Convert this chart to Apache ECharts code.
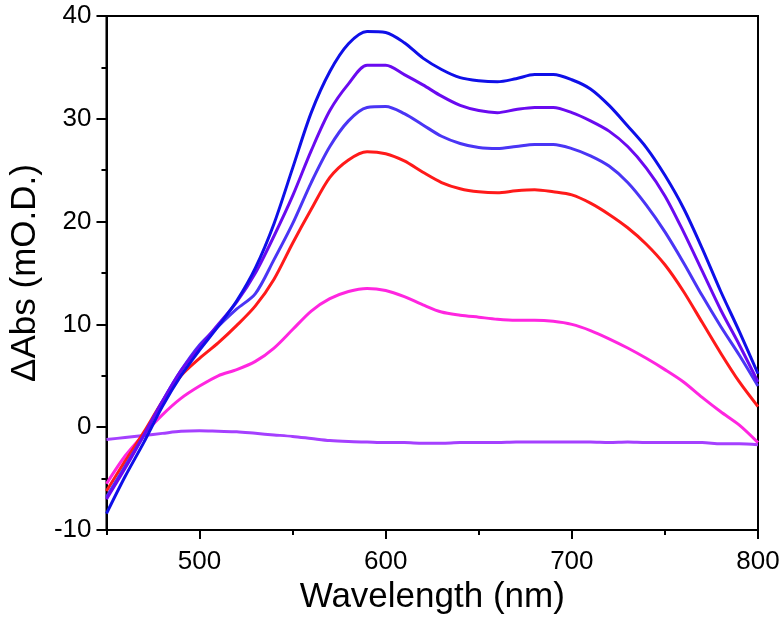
<!DOCTYPE html>
<html lang="en" style="height: 100%">
<head>
  <meta charset="utf-8">
</head>
<body style="height: 100%; margin: 0; background: #fff">
  <div id="container" style="width: 784px; height: 621px"></div>

  <script type="text/javascript" src="https://fastly.jsdelivr.net/npm/echarts@6/dist/echarts.min.js"></script>

  <script type="text/javascript">
    // wavelength grid (nm)
    var wavelengths = [450, 460, 470, 480, 490, 500, 510, 520, 530, 540, 550, 560, 570, 580, 590, 600, 610, 620,
      630, 640, 650, 660, 670, 680, 690, 700, 710, 720, 730, 740, 750, 760, 770, 780, 790, 800];

    // ΔAbs traces (mO.D.)
    var blueTrace = [-8.4, -4.8, -1.5, 2.0, 5.0, 7.5, 9.8, 12.3, 15.5, 19.8, 25.2, 30.6, 34.6, 37.3, 38.5, 38.4, 37.4, 35.9,
      34.8, 34.0, 33.7, 33.6, 33.9, 34.3, 34.3, 33.8, 32.9, 31.3, 29.3, 27.2, 24.5, 21.3, 17.4, 13.2, 9.3, 5.2];
    var purpleTrace = [-7.0, -4.0, -0.8, 2.5, 5.5, 7.8, 10.0, 12.2, 15.0, 18.6, 22.5, 26.9, 30.8, 33.4, 35.2, 35.2, 34.3, 33.3,
      32.2, 31.3, 30.8, 30.6, 30.9, 31.1, 31.1, 30.6, 29.8, 28.8, 27.3, 25.2, 22.5, 19.0, 15.2, 11.4, 8.0, 4.4];
    var slateTrace = [-6.8, -3.8, -0.8, 2.5, 5.5, 8.0, 9.8, 11.5, 13.0, 16.3, 19.8, 23.8, 27.3, 29.8, 31.1, 31.2, 30.5, 29.4,
      28.3, 27.6, 27.2, 27.1, 27.3, 27.5, 27.5, 27.1, 26.4, 25.4, 23.8, 21.6, 19.0, 16.0, 12.8, 9.8, 7.0, 4.0];
    var redTrace = [-6.2, -3.3, -0.5, 2.5, 5.0, 6.7, 8.2, 9.9, 11.8, 14.4, 17.9, 21.2, 24.3, 26.0, 26.8, 26.6, 25.9, 24.8,
      23.8, 23.2, 22.9, 22.8, 23.0, 23.1, 22.9, 22.6, 21.8, 20.7, 19.4, 17.8, 15.8, 13.2, 10.2, 7.2, 4.4, 2.0];
    var magentaTrace = [-5.5, -2.8, -0.7, 1.2, 2.8, 4.0, 5.0, 5.6, 6.4, 7.7, 9.5, 11.3, 12.5, 13.2, 13.5, 13.3, 12.7, 11.9,
      11.2, 10.9, 10.7, 10.5, 10.4, 10.4, 10.3, 10.0, 9.4, 8.6, 7.7, 6.7, 5.6, 4.4, 2.9, 1.5, 0.2, -1.5];
    var violetTrace = [-1.2, -1.0, -0.8, -0.6, -0.4, -0.35, -0.4, -0.45, -0.6, -0.75, -0.9, -1.1, -1.3, -1.4, -1.45, -1.5, -1.5, -1.55,
      -1.55, -1.5, -1.5, -1.5, -1.45, -1.45, -1.45, -1.45, -1.45, -1.5, -1.45, -1.5, -1.5, -1.5, -1.5, -1.6, -1.6, -1.7];

    var xMajorTicks = [500, 600, 700, 800];
    var xMinorTicks = [450, 550, 650, 750];

    var font = 'Arial, "Liberation Sans", sans-serif';

    var dom = document.getElementById('container');
    var myChart = echarts.init(dom, null, { renderer: 'canvas' });

    function pairs(ys) {
      return wavelengths.map(function (x, i) { return [x, ys[i]]; });
    }

    function trace(ys, color) {
      return {
        type: 'line',
        data: pairs(ys),
        smooth: 0.3,
        showSymbol: false,
        lineStyle: { color: color, width: 3 },
        itemStyle: { color: color }
      };
    }

    var option = {
      animation: false,
      grid: {
        left: 102, right: 26, top: 16, bottom: 91,
        show: true, borderColor: '#000', borderWidth: 2
      },
      xAxis: [
        {
          type: 'value',
          min: 450, max: 800, interval: 50,
          name: 'Wavelength (nm)',
          nameLocation: 'middle',
          nameGap: 48,
          nameTextStyle: { fontFamily: font, fontSize: 35, color: '#000' },
          axisLine: { onZero: false, lineStyle: { color: '#000', width: 2 } },
          axisTick: { customValues: xMajorTicks, length: 9, lineStyle: { color: '#000', width: 2 } },
          axisLabel: { customValues: xMajorTicks, margin: 19, fontFamily: font, fontSize: 26, color: '#000' },
          splitLine: { show: false }
        },
        {
          type: 'value',
          position: 'bottom',
          min: 450, max: 800, interval: 50,
          axisLine: { show: false, onZero: false },
          axisTick: { customValues: xMinorTicks, length: 5, lineStyle: { color: '#000', width: 2 } },
          axisLabel: { show: false },
          splitLine: { show: false }
        }
      ],
      yAxis: {
        type: 'value',
        min: -10, max: 40, interval: 10,
        name: 'ΔAbs (mO.D.)',
        nameLocation: 'middle',
        nameGap: 62,
        nameTextStyle: { fontFamily: font, fontSize: 35, color: '#000' },
        axisLine: { show: true, lineStyle: { color: '#000', width: 2 } },
        axisTick: { show: true, length: 10, lineStyle: { color: '#000', width: 2 } },
        minorTick: { show: true, splitNumber: 2, length: 5, lineStyle: { color: '#000', width: 2 } },
        axisLabel: { margin: 15, fontFamily: font, fontSize: 26, color: '#000' },
        splitLine: { show: false }
      },
      series: [
        trace(violetTrace, '#a540ff'),
        trace(magentaTrace, '#ff26e0'),
        trace(redTrace, '#ff1a1a'),
        trace(slateTrace, '#4a35f5'),
        trace(purpleTrace, '#6a0af0'),
        trace(blueTrace, '#0f0fe8')
      ]
    };

    myChart.setOption(option);

    window.addEventListener('resize', myChart.resize);
  </script>
</body>
</html>
